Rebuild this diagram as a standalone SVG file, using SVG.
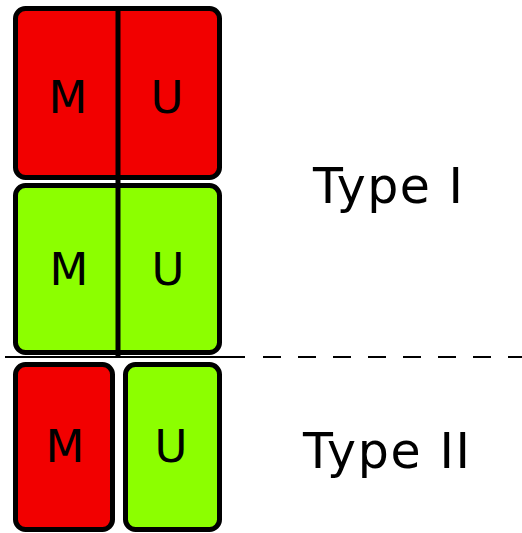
<svg xmlns="http://www.w3.org/2000/svg" width="522" height="533" viewBox="0 0 522 533">
<style>
.box{stroke:#000;stroke-width:5;}
.red{fill:#f20000;}
.green{fill:#8cff00;}
.lbl{font-family:"DejaVu Sans",sans-serif;font-size:45px;fill:#000;text-anchor:middle;}
.type{font-family:"DejaVu Sans",sans-serif;font-size:49px;fill:#000;}
</style>
<rect width="522" height="533" fill="#fff"/>
<g id="type1-red">
<rect class="box red" x="15.5" y="8.5" width="204" height="169" rx="10"/>
<text class="lbl" x="68" y="113">M</text>
<text class="lbl" x="167" y="113">U</text>
</g>
<g id="type1-green">
<rect class="box green" x="15.5" y="185.5" width="204" height="167" rx="10"/>
<text class="lbl" x="69" y="285">M</text>
<text class="lbl" x="168" y="285">U</text>
</g>
<g id="divider">
<line x1="118" y1="6" x2="118" y2="356" stroke="#000" stroke-width="5"/>
</g>
<g id="separator">
<line x1="5" y1="357" x2="245" y2="357" stroke="#000" stroke-width="2"/>
<line x1="263" y1="357" x2="522" y2="357" stroke="#000" stroke-width="2" stroke-dasharray="18 17"/>
</g>
<g id="type2-M">
<rect class="box red" x="15.5" y="364.5" width="97" height="165" rx="10"/>
<text class="lbl" x="65" y="462">M</text>
</g>
<g id="type2-U">
<rect class="box green" x="125.5" y="364.5" width="94" height="165" rx="10"/>
<text class="lbl" x="171" y="462">U</text>
</g>
<text class="type" x="313" y="203" textLength="150" lengthAdjust="spacing">Type I</text>
<text class="type" x="303" y="468" textLength="167" lengthAdjust="spacing">Type II</text>
</svg>
